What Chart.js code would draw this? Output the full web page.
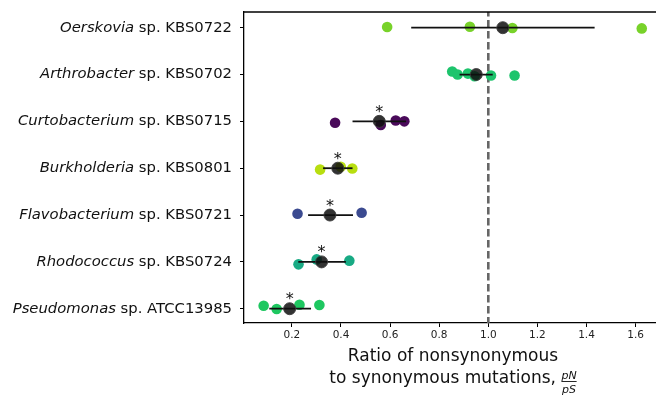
<!DOCTYPE html>
<html>
<head>
<meta charset="utf-8">
<script src="https://cdn.jsdelivr.net/npm/chart.js@4/dist/chart.umd.min.js"></script>
<style>
  html, body { margin: 0; padding: 0; background: #fff; }
  #wrap { width: 656px; height: 396px; }
</style>
</head>
<body>
<div id="wrap"><canvas id="chartCanvas" width="656" height="396"></canvas></div>
<script>
// Species (italic genus + strain), top to bottom
const genera = ['Oerskovia', 'Arthrobacter', 'Curtobacterium', 'Burkholderia', 'Flavobacterium', 'Rhodococcus', 'Pseudomonas'];
const strains = ['KBS0722', 'KBS0702', 'KBS0715', 'KBS0801', 'KBS0721', 'KBS0724', 'ATCC13985'];
const colors = ['#78d22a', '#1dc46c', '#4a0a5a', '#b8de10', '#3b4a90', '#18aa84', '#1ec760'];

// pN/pS of each replicate population, with the vertical jitter
const ratios = [
    [0.588, 0.925, 1.098, 1.625],
    [0.853, 0.875, 0.917, 0.944, 1.011, 1.107],
    [0.376, 0.562, 0.623, 0.658],
    [0.315, 0.399, 0.446],
    [0.223, 0.484],
    [0.227, 0.301, 0.434],
    [0.085, 0.138, 0.231, 0.312]
];
const jitter = [
    [-0.015, -0.02, 0.007, 0.015],
    [-0.064, 0.0, -0.02, 0.036, 0.02, 0.02],
    [0.028, 0.079, -0.02, 0.0],
    [0.03, -0.03, 0.005],
    [-0.028, -0.05],
    [0.053, -0.053, -0.026],
    [-0.064, 0.006, -0.085, -0.079]
];

// mean and error bar ends
const means = [1.059, 0.951, 0.556, 0.387, 0.355, 0.321, 0.191];
const errLow = [0.686, 0.883, 0.447, 0.327, 0.266, 0.226, 0.108];
const errHigh = [1.433, 1.018, 0.665, 0.447, 0.449, 0.42, 0.278];
const significant = [false, false, true, true, true, true, true];

const xTicks = [0.2, 0.4, 0.6, 0.8, 1.0, 1.2, 1.4, 1.6];
const neutralLine = 1.0;

const FONT = "'DejaVu Sans', sans-serif";

// Tập dữ liệu
const datasets = [];

genera.forEach((g, i) => {
    datasets.push({
        label: g,
        data: ratios[i].map((v, j) => ({ x: v, y: i + jitter[i][j] })),
        backgroundColor: colors[i],
        borderWidth: 0,
        pointRadius: 5.3,
        order: 3
    });
    datasets.push({
        label: g + ' err',
        type: 'line',
        data: [{ x: errLow[i], y: i }, { x: errHigh[i], y: i }],
        borderColor: '#111',
        borderWidth: 1.8,
        pointRadius: 0,
        showLine: true,
        order: 2
    });
});

datasets.push({
    label: 'mean',
    data: means.map((m, i) => ({ x: m, y: i })),
    backgroundColor: 'rgba(15,15,15,0.85)',
    borderColor: 'rgba(60,60,60,0.9)',
    borderWidth: 1,
    pointRadius: 6,
    order: 1
});

datasets.push({
    label: 'neutral',
    type: 'line',
    data: [{ x: neutralLine, y: -0.4 }, { x: neutralLine, y: 6.4 }],
    borderColor: '#666',
    borderWidth: 2.6,
    borderDash: [7.5, 3.5],
    pointRadius: 0,
    showLine: true,
    order: 4
});

// labels, title, asterisks, top frame
const decorPlugin = {
    id: 'decor',
    afterDatasetsDraw(chart) {
        const ctx = chart.ctx;
        const xs = chart.scales.x;
        const ys = chart.scales.y;
        const area = chart.chartArea;
        ctx.save();

        // top spine
        ctx.strokeStyle = '#000';
        ctx.lineWidth = 1.3;
        ctx.beginPath();
        ctx.moveTo(area.left, area.top);
        ctx.lineTo(area.right, area.top);
        ctx.stroke();

        // asterisks
        ctx.fillStyle = '#111';
        ctx.font = '16px ' + FONT;
        ctx.textAlign = 'center';
        ctx.textBaseline = 'alphabetic';
        means.forEach((m, i) => {
            if (!significant[i]) return;
            ctx.fillText('*', xs.getPixelForValue(m), ys.getPixelForValue(i) - 4.5);
        });

        // y tick labels: italic genus + " sp. strain"
        const right = area.left - 12;
        genera.forEach((g, i) => {
            const y = ys.getPixelForValue(i);
            ctx.textBaseline = 'middle';
            ctx.textAlign = 'left';
            ctx.font = '14.8px ' + FONT;
            const rest = ' sp. ' + strains[i];
            const wRest = ctx.measureText(rest).width;
            ctx.font = 'italic 14.8px ' + FONT;
            const wG = ctx.measureText(g).width;
            const x0 = right - wRest - wG;
            ctx.fillText(g, x0, y);
            ctx.font = '14.8px ' + FONT;
            ctx.fillText(rest, x0 + wG, y);
        });

        // x axis title
        const cx = (area.left + area.right) / 2 + 3;
        ctx.textBaseline = 'alphabetic';
        ctx.textAlign = 'center';
        ctx.font = '17px ' + FONT;
        ctx.fillText('Ratio of nonsynonymous', cx, 360.5);
        const line2 = 'to synonymous mutations, ';
        const w2 = ctx.measureText(line2).width;
        ctx.font = 'italic 11px ' + FONT;
        const wFrac = Math.max(ctx.measureText('pN').width, ctx.measureText('pS').width);
        const start = cx - (w2 + wFrac) / 2;
        ctx.font = '17px ' + FONT;
        ctx.textAlign = 'left';
        ctx.fillText(line2, start, 383);
        const fx = start + w2 + wFrac / 2;
        ctx.font = 'italic 11px ' + FONT;
        ctx.textAlign = 'center';
        ctx.fillText('pN', fx, 378.5);
        ctx.fillText('pS', fx, 392.5);
        ctx.lineWidth = 0.9;
        ctx.strokeStyle = '#111';
        ctx.beginPath();
        ctx.moveTo(fx - wFrac / 2, 381.5);
        ctx.lineTo(fx + wFrac / 2, 381.5);
        ctx.stroke();

        ctx.restore();
    }
};

function createChart(ctx) {
    return new Chart(ctx, {
        type: 'scatter',
        data: { datasets: datasets },
        options: {
            responsive: false,
            animation: false,
            layout: { autoPadding: false, padding: { top: 12, right: 0, left: 0, bottom: 0 } },
            plugins: {
                legend: { display: false },
                tooltip: { enabled: false }
            },
            scales: {
                x: {
                    type: 'linear',
                    min: 0.005,
                    max: 1.683,
                    afterBuildTicks: (scale) => {
                        scale.ticks = xTicks.map(v => ({ value: v }));
                    },
                    afterFit: (scale) => {
                        scale.height = 396 - 12 - 311;
                        scale.paddingLeft = 0;
                        scale.paddingRight = 0;
                    },
                    ticks: {
                        color: '#222',
                        font: { family: FONT, size: 10.5 },
                        padding: 2,
                        callback: (v) => v.toFixed(1)
                    },
                    grid: {
                        drawOnChartArea: false,
                        drawTicks: true,
                        tickLength: 4,
                        color: '#000'
                    },
                    border: { color: '#000', width: 1.3 }
                },
                y: {
                    type: 'linear',
                    reverse: true,
                    min: -0.335,
                    max: 6.305,
                    afterBuildTicks: (scale) => {
                        scale.ticks = genera.map((g, i) => ({ value: i }));
                    },
                    afterFit: (scale) => {
                        scale.width = 244;
                        scale.paddingTop = 0;
                        scale.paddingBottom = 0;
                    },
                    ticks: { display: true, callback: () => '' },
                    grid: {
                        drawOnChartArea: false,
                        drawTicks: true,
                        tickLength: 4,
                        color: '#000'
                    },
                    border: { color: '#000', width: 1.3 }
                }
            }
        },
        plugins: [decorPlugin]
    });
}

window.addEventListener('load', () => {
    const ctx = document.getElementById('chartCanvas').getContext('2d');
    createChart(ctx);
});
</script>
</body>
</html>
